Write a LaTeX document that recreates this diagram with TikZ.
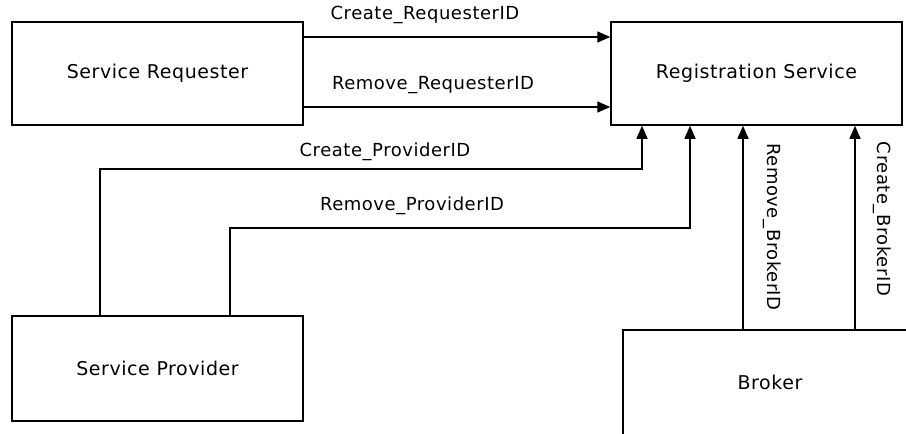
\documentclass[tikz,border=0pt]{standalone}
\usepackage{fontspec}
\setmainfont{DejaVu Sans}[LetterSpace=3]
\usetikzlibrary{arrows.meta}
\begin{document}
\begin{tikzpicture}[x=1pt,y=-1pt,
  box/.style={draw, line width=1.5pt, minimum width=291pt, minimum height=103pt, inner sep=0pt, font=\fontsize{19}{22}\selectfont},
  arr/.style={line width=1.4pt, -{Triangle[length=13pt,width=11pt]}},
  lbl/.style={inner sep=0pt, font=\fontsize{18}{21}\selectfont}]
\useasboundingbox (0,0) rectangle (906,434);
\begin{scope}
\clip (0,0) rectangle (906,434);
% boxes
\node[box] (req) at (157.5,73.5) {Service Requester};
\node[box] (reg) at (756.5,73.5) {Registration Service};
\node[box, minimum height=105pt] (prov) at (157.5,368.5) {Service Provider};
\node[box, minimum width=294pt, minimum height=105pt] (broker) at (770,382.5) {Broker};

% helper coordinates for connector routes
\coordinate (r1) at (0,37);
\coordinate (r2) at (0,107);
\coordinate (p1) at (100,169);
\coordinate (p2) at (642,169);
\coordinate (q1) at (230,228);
\coordinate (q2) at (690,228);
\coordinate (b1) at (743,0);
\coordinate (b2) at (855,0);

% requester -> registration
\draw[arr] (req.east |- r1) -- (reg.west |- r1);
\draw[arr] (req.east |- r2) -- (reg.west |- r2);
% provider -> registration
\draw[arr] (prov.north -| p1) -- (p1) -- (p2) -- (reg.south -| p2);
\draw[arr] (prov.north -| q1) -- (q1) -- (q2) -- (reg.south -| q2);
% broker -> registration
\draw[arr] (broker.north -| b1) -- (reg.south -| b1);
\draw[arr] (broker.north -| b2) -- (reg.south -| b2);
\end{scope}

% labels
\node[lbl] (l1) at (425,15) {Create\_RequesterID};
\node[lbl] (l2) at (433,85) {Remove\_RequesterID};
\node[lbl] (l3) at (385,152) {Create\_ProviderID};
\node[lbl] (l4) at (412,206) {Remove\_ProviderID};
\node[lbl, rotate=-90] (l5) at (772,227) {Remove\_BrokerID};
\node[lbl, rotate=-90] (l6) at (882,219) {Create\_BrokerID};
\end{tikzpicture}
\end{document}
